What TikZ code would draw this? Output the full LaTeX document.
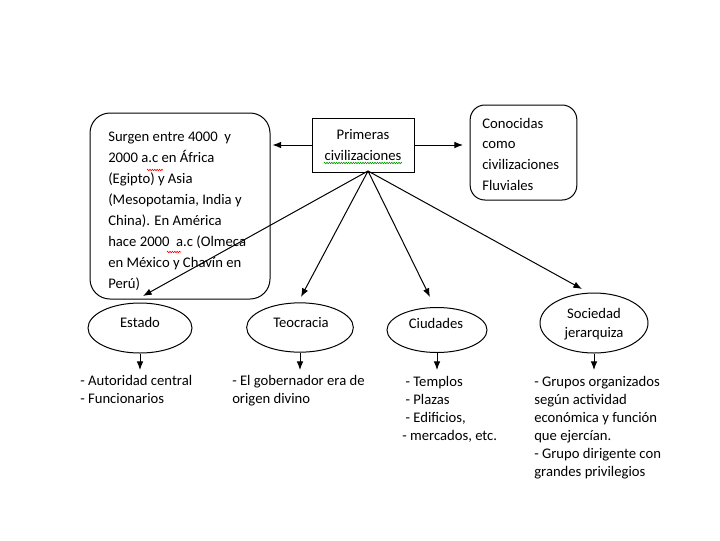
\documentclass[tikz,border=0pt]{standalone}
\usepackage{fontspec}
\setmainfont{Carlito}
\usetikzlibrary{arrows.meta,shapes.geometric,decorations.pathmorphing}
\begin{document}
\begin{tikzpicture}[x=0.75pt,y=-0.75pt,
  box/.style={draw, line width=0.75pt, inner sep=0pt},
  oval/.style={draw, ellipse, line width=0.75pt, inner sep=0pt},
  txt/.style={inner sep=0pt, anchor=north west, align=left, font=\fontsize{11}{13.5}\selectfont},
  lbl/.style={inner sep=0pt, anchor=base, font=\fontsize{11}{13.5}\selectfont},
  arr/.style={-{Latex[length=6.5pt,width=5pt]}, line width=0.75pt},
  squig/.style={line width=0.45pt, decorate, decoration={zigzag, segment length=1.8pt, amplitude=0.55pt}}]
\useasboundingbox (0,0) rectangle (720,540);

% top row
\node[box, rounded corners=15pt, minimum width=135pt, minimum height=139.5pt] (big) at (180,206) {};
\node[txt, font=\fontsize{11}{15.75}\selectfont] (bigtxt) at (108,132) {Surgen entre 4000 \ y\\
2000 a.c en África\\
(Egipto) y Asia\\
(Mesopotamia, India y\\
China). En América\\
hace 2000 \ a.c (Olmeca\\
en México y Chavín en\\
Perú)};
\node[box, minimum width=76.5pt, minimum height=40.5pt, align=center, font=\fontsize{11}{15.75}\selectfont] (prim) at (363,145) {Primeras\\civilizaciones};
\node[box, rounded corners=11pt, minimum width=80pt, minimum height=71.25pt] (cono) at (523.5,152.5) {};
\node[txt, font=\fontsize{11}{15.4}\selectfont] (conotxt) at (482,118) {Conocidas\\como\\civilizaciones\\Fluviales};

% spell-check marks
\draw[squig, red] (147,170) -- (163,170);
\draw[squig, red] (167,252) -- (181,252);
\draw[squig, green!60!black] (324,163) -- (402,163);

% ellipses
\node[oval, minimum width=78pt, minimum height=37.5pt] (estado) at (140,328) {};
\node[lbl] (estadoT) at (140,327) {Estado};
\node[oval, minimum width=80pt, minimum height=37pt] (teo) at (300,327.5) {};
\node[lbl] (teoT) at (301,327) {Teocracia};
\node[oval, minimum width=75pt, minimum height=33.75pt] (ciud) at (437,330) {};
\node[lbl] (ciudT) at (436,328) {Ciudades};
\node[oval, minimum width=81pt, minimum height=45pt] (soc) at (594,323) {};
\node[lbl] (socT1) at (594,318) {Sociedad};
\node[lbl] (socT2) at (594,337) {jerarquiza};

% lists
\node[txt] (estadoL) at (80,375) {- Autoridad central\\- Funcionarios};
\node[txt] (teoL) at (232,375) {- El gobernador era de\\origen divino};
\node[txt] (ciudL) at (402,376) {\ - Templos\\\ - Plazas\\\ - Edificios,\\- mercados, etc.};
\node[txt] (socL) at (534,376) {- Grupos organizados\\según actividad\\económica y función\\que ejercían.\\- Grupo dirigente con\\grandes privilegios};

% connector ends
\coordinate (fan) at (368,171);
\coordinate (tipE) at (143,296);
\coordinate (tipT) at (301,297);
\coordinate (tipC) at (430,297);
\coordinate (tipS) at (582,289);
\coordinate (dE) at (140,370);
\coordinate (dT) at (300,370);
\coordinate (dC) at (437,370);
\coordinate (dS) at (594,370);

% connectors
\draw[arr, shorten >=1.5pt] (prim.west) -- (prim.west -| big.east);
\draw[arr, shorten >=5pt] (prim.east) -- (prim.east -| cono.west);
\draw[arr] (fan) -- (tipE);
\draw[arr] (fan) -- (tipT);
\draw[arr] (fan) -- (tipC);
\draw[arr] (fan) -- (tipS);
\draw[arr] (estado.south) -- (dE);
\draw[arr] (teo.south) -- (dT);
\draw[arr] (ciud.south) -- (dC);
\draw[arr] (soc.south) -- (dS);
\end{tikzpicture}
\end{document}
